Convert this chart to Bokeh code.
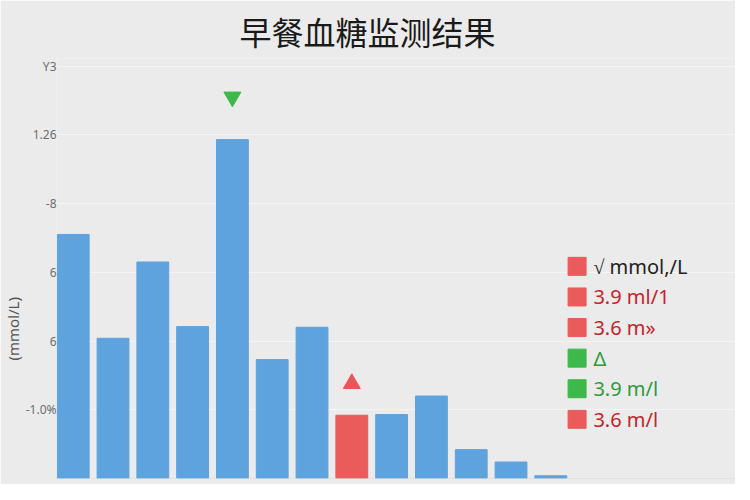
from bokeh.plotting import figure
from bokeh.models import ColumnDataSource, Range1d, Title, Span
from bokeh.core.properties import value
from bokeh.embed import file_html
from bokeh.resources import INLINE

# data
days = list(range(13))
glucose = [3.55, 2.04, 3.15, 2.21, 4.93, 1.73, 2.20, 0.92, 0.93, 1.20, 0.42, 0.24, 0.04]
bar_colors = ["#5fa3de"] * 7 + ["#ea5b5b"] + ["#5fa3de"] * 5

marker_x = [4, 7]
marker_y = [5.55, 1.38]
marker_kind = ["inverted_triangle", "triangle"]
marker_colors = ["#3cb94a", "#e85757"]

tick_values = [1, 2, 3, 4, 5, 6]
tick_labels = ["-1.0%", "6", "6", "-8", "1.26", "Y3"]

legend_labels = ["√ mmol,/L", "3.9 ml/1", "3.6 m»", "Δ", "3.9 m/l", "3.6 m/l"]
legend_colors = ["#ea5b5b", "#ea5b5b", "#ea5b5b", "#3cb94a", "#3cb94a", "#ea5b5b"]
legend_text_colors = ["#222222", "#c4242b", "#c4242b", "#2f9a3a", "#2f9a3a", "#c4242b"]

BG = "#ebebeb"

p = figure(frame_width=679, frame_height=420,
           x_range=Range1d(-0.42, 16.64), y_range=Range1d(0, 6.11),
           min_border_left=0, min_border_right=0, min_border_top=0,
           min_border_bottom=6,
           output_backend="svg", toolbar_location=None)
p.title = None
p.add_layout(Title(text="早餐血糖监测结果", align="left", offset=183,
                   text_font_size="32px", text_font="Noto Sans CJK SC",
                   text_font_style="normal", text_color="#1a1a1a"), "above")
p.add_layout(Title(text="(mmol/L)", align="left", offset=118, standoff=0,
                   text_font_size="15px", text_font="Noto Sans",
                   text_font_style="normal", text_color="#555555"), "left")

p.background_fill_color = BG
p.border_fill_color = BG
p.outline_line_color = None

bars = ColumnDataSource(data=dict(x=days, top=glucose, color=bar_colors))
p.vbar(x="x", top="top", width=0.8, color="color", source=bars)

marks = ColumnDataSource(data=dict(x=marker_x, y=marker_y, marker=marker_kind,
                                   color=marker_colors))
p.scatter(x="x", y="y", marker="marker", size=17, color="color", source=marks)

p.add_layout(Span(location=0, dimension="width", line_color="#d2d2d2", line_width=1))

# legend drawn by hand, colours differ per row
leg_x = 12.66
leg_rows = [3.086 - 0.445 * i for i in range(len(legend_labels))]
p.scatter(x=[leg_x] * len(leg_rows), y=leg_rows, marker="square", size=18,
          color=legend_colors)
p.text(x=[leg_x + 0.41] * len(leg_rows), y=leg_rows, text=legend_labels,
       text_color=legend_text_colors, text_font=value("Noto Sans"),
       text_font_size="20px", text_baseline="middle", text_align="left")

p.xaxis.visible = False
p.xgrid.visible = False
p.ygrid.ticker = tick_values
p.ygrid.grid_line_color = "#f5f5f5"
p.yaxis.ticker = tick_values
p.yaxis.major_label_overrides = dict(zip(tick_values, tick_labels))
p.yaxis.axis_line_color = None
p.yaxis.major_tick_line_color = None
p.yaxis.minor_tick_line_color = None
p.yaxis.major_tick_out = 0
p.yaxis.major_tick_in = 0
p.yaxis.major_label_standoff = 0
p.yaxis.major_label_text_font = "Noto Sans"
p.yaxis.major_label_text_font_size = "12px"
p.yaxis.major_label_text_color = "#6e6e6e"

open("out.html", "w").write(file_html(p, INLINE))
